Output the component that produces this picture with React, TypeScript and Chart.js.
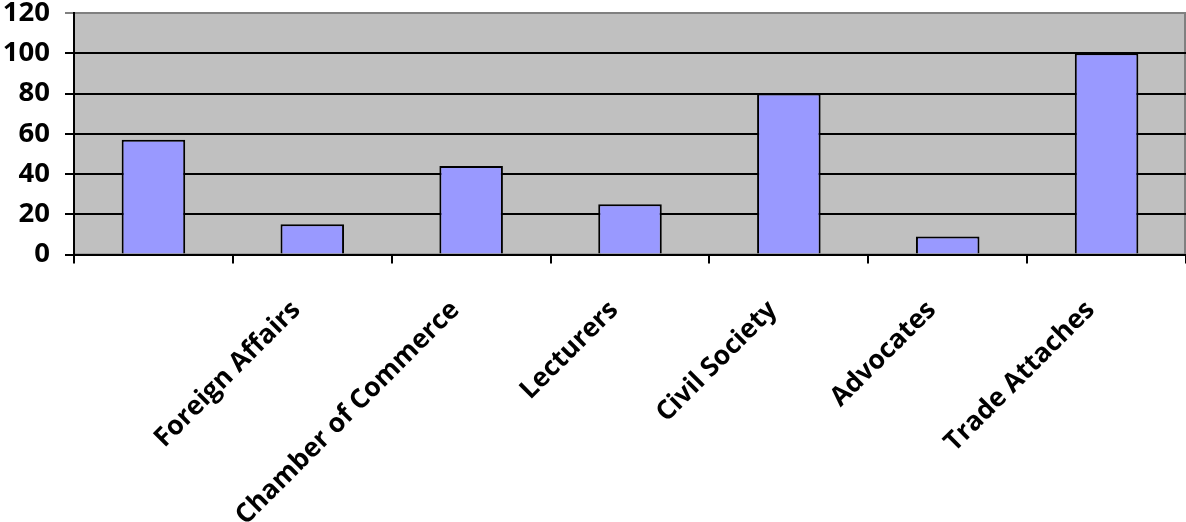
import { useEffect, useRef } from "react";
import { Chart, registerables } from "chart.js";

Chart.register(...registerables);

// Survey groups (the first column carries no label) and their counts
const categories = [
  "",
  "Foreign Affairs",
  "Chamber of Commerce",
  "Lecturers",
  "Civil Society",
  "Advocates",
  "Trade Attaches",
];
const values = [57, 15, 44, 25, 80, 9, 100];
const yMin = 0;
const yMax = 120;
const yStep = 20;

const FONT = "'Open Sans', 'Noto Sans', sans-serif";

// Grey plot-area fill with a thin grey frame, painted under the grid and bars
const plotBackground = {
  id: "plotBackground",
  beforeDraw(chart: any) {
    const { ctx, chartArea: a } = chart;
    ctx.save();
    ctx.fillStyle = "#C0C0C0";
    ctx.fillRect(a.left, a.top, a.right - a.left, a.bottom - a.top);
    ctx.strokeStyle = "#808080";
    ctx.lineWidth = 2;
    ctx.strokeRect(a.left, a.top, a.right - a.left - 1, a.bottom - a.top);
    ctx.restore();
  },
};

export default function App() {
  const canvasRef = useRef<HTMLCanvasElement | null>(null);

  useEffect(() => {
    if (!canvasRef.current) return;
    const chart = new Chart(canvasRef.current, {
      type: "bar",
      data: {
        labels: categories,
        datasets: [
          {
            data: values,
            backgroundColor: "#9999FF",
            borderColor: "#000000",
            borderWidth: 2,
            barPercentage: 0.4,
            categoryPercentage: 1.0,
          },
        ],
      },
      options: {
        animation: false,
        responsive: false,
        layout: { padding: { top: 13, right: 0, bottom: 0, left: 0 } },
        plugins: {
          legend: { display: false },
          tooltip: { enabled: false },
        },
        scales: {
          x: {
            type: "category",
            grid: {
              drawOnChartArea: false,
              drawTicks: true,
              tickLength: 9,
              color: "#000000",
              lineWidth: 2,
              offset: true,
            },
            border: { color: "#000000", width: 2 },
            ticks: {
              autoSkip: false,
              minRotation: 45,
              maxRotation: 45,
              padding: 31,
              labelOffset: -16,
              color: "#000000",
              font: { family: FONT, size: 26.5, weight: "bold" },
            },
            afterFit(scale: any) {
              scale.height = 267.5;
              scale.paddingLeft = 0;
              scale.paddingRight = 0;
            },
          },
          y: {
            min: yMin,
            max: yMax,
            ticks: {
              stepSize: yStep,
              padding: 15,
              color: "#000000",
              font: { family: FONT, size: 27.5, weight: "bold", lineHeight: 1 },
            },
            grid: {
              color: (c: any) => (c.tick && c.tick.value === yMax ? "#808080" : "#000000"),
              lineWidth: 2,
              tickLength: 9,
            },
            border: { color: "#000000", width: 2 },
            afterFit(scale: any) {
              scale.width = 74;
              scale.paddingTop = 0;
              scale.paddingBottom = 0;
            },
          },
        },
      },
      plugins: [plotBackground],
    });
    return () => chart.destroy();
  }, []);

  return (
    <div style={{ position: "absolute", left: 0, top: 0, width: 1186, height: 522, background: "#FFFFFF" }}>
      <canvas ref={canvasRef} width={1186} height={522} style={{ display: "block" }} />
    </div>
  );
}
